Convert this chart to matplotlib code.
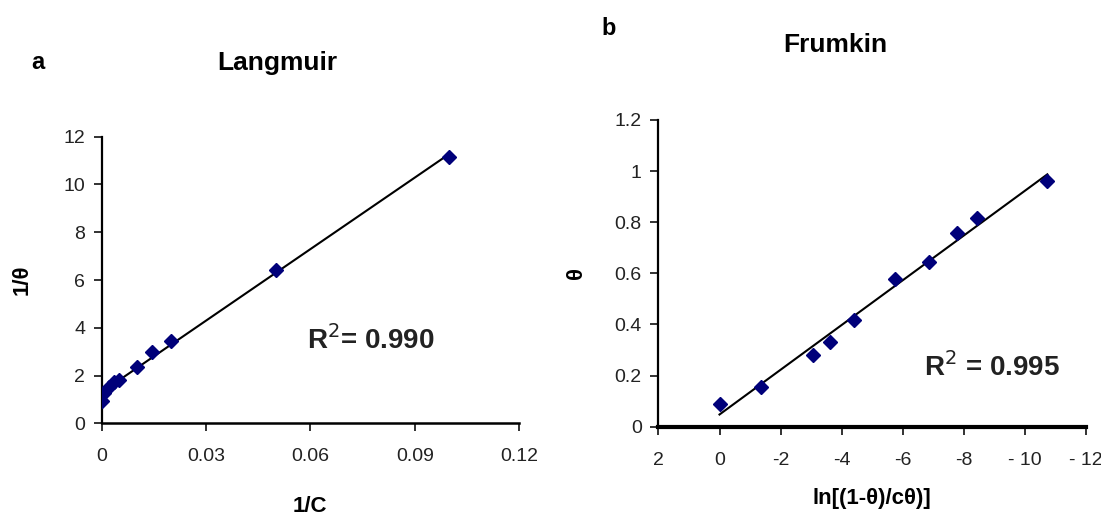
import numpy as np
import matplotlib.pyplot as plt

plt.rcParams['font.family'] = ['Liberation Sans', 'DejaVu Sans']

# a) Langmuir: 1/theta vs 1/C
inv_c = np.array([0.0002, 0.0007, 0.002, 0.0035, 0.005, 0.01, 0.0145, 0.02, 0.05, 0.1])
inv_theta = np.array([0.95, 1.25, 1.52, 1.72, 1.8, 2.36, 2.98, 3.46, 6.42, 11.15])

# b) Frumkin: theta vs ln[(1-theta)/c theta]
ln_term = np.array([0.0, -1.37, -3.06, -3.63, -4.40, -5.73, -6.85, -7.78, -8.44, -10.73])
theta = np.array([0.09, 0.156, 0.28, 0.33, 0.417, 0.578, 0.646, 0.757, 0.815, 0.961])

lang_xticks = [0, 0.03, 0.06, 0.09, 0.12]
lang_xlabels = ['0', '0.03', '0.06', '0.09', '0.12']
lang_yticks = [0, 2, 4, 6, 8, 10, 12]
frum_xticks = [2, 0, -2, -4, -6, -8, -10, -12]
frum_xlabels = ['2', '0', '-2', '-4', '-6', '-8', '- 10', '- 12']
frum_yticks = [0, 0.2, 0.4, 0.6, 0.8, 1, 1.2]
frum_ylabels = ['0', '0.2', '0.4', '0.6', '0.8', '1', '1.2']

pt_col = '#00007a'

fig = plt.figure(figsize=(11.01, 5.21), dpi=100)
ax1 = fig.add_axes([0.0924, 0.1875, 0.3790, 0.5501])
ax2 = fig.add_axes([0.5980, 0.1810, 0.3885, 0.5887])


def style(ax, bottom_lw):
    for s in ['top', 'right']:
        ax.spines[s].set_visible(False)
    ax.spines['left'].set_linewidth(1.6)
    ax.spines['bottom'].set_linewidth(bottom_lw)
    ax.tick_params(direction='out', length=6, width=1.3, labelsize=14,
                   colors='#222222', pad=6)
    ax.tick_params(axis='x', pad=12)


# Langmuir
k1, n1 = np.polyfit(inv_c, inv_theta, 1)
xl = np.array([0, inv_c.max()])
ax1.plot(xl, k1 * xl + n1, 'k-', lw=1.5, zorder=2)
ax1.plot(inv_c, inv_theta, 'D', color=pt_col, ms=7.5, zorder=3)
ax1.set_xlim(0, 0.12)
ax1.set_ylim(0, 12)
ax1.set_xticks(lang_xticks)
ax1.set_xticklabels(lang_xlabels)
ax1.set_yticks(lang_yticks)
style(ax1, 1.8)
ax1.set_xlabel('1/C', fontsize=16, fontweight='bold', labelpad=22)
ax1.set_ylabel('1/θ', fontsize=16, fontweight='bold', labelpad=22)
ax1.text(0.059, 3.1, r'R$^2$= 0.990', fontsize=20, fontweight='bold',
         color='#222222')

# Frumkin
k2, n2 = np.polyfit(ln_term, theta, 1)
xf = np.array([ln_term.max(), ln_term.min()])
ax2.plot(xf, k2 * xf + n2, 'k-', lw=1.5, zorder=2)
ax2.plot(ln_term, theta, 'D', color=pt_col, ms=7.5, zorder=3)
ax2.set_xlim(2, -12)
ax2.set_ylim(0, 1.2)
ax2.set_xticks(frum_xticks)
ax2.set_xticklabels(frum_xlabels)
ax2.set_yticks(frum_yticks)
ax2.set_yticklabels(frum_ylabels)
style(ax2, 3.0)
ax2.set_xlabel('ln[(1-θ)/cθ)]', fontsize=16, fontweight='bold', labelpad=14)
ax2.set_ylabel('θ', fontsize=16, fontweight='bold', labelpad=20)
ax2.text(-6.7, 0.2, r'R$^2$ = 0.995', fontsize=20, fontweight='bold',
         color='#222222')

# titles and panel letters
fig.text(0.2516, 0.880, 'Langmuir', fontsize=19, fontweight='bold', ha='center', va='center')
fig.text(0.034, 0.880, 'a', fontsize=17, fontweight='bold', ha='center', va='center')
fig.text(0.7590, 0.913, 'Frumkin', fontsize=19, fontweight='bold', ha='center', va='center')
fig.text(0.5530, 0.945, 'b', fontsize=17, fontweight='bold', ha='center', va='center')

plt.savefig('out.png', dpi=100)
